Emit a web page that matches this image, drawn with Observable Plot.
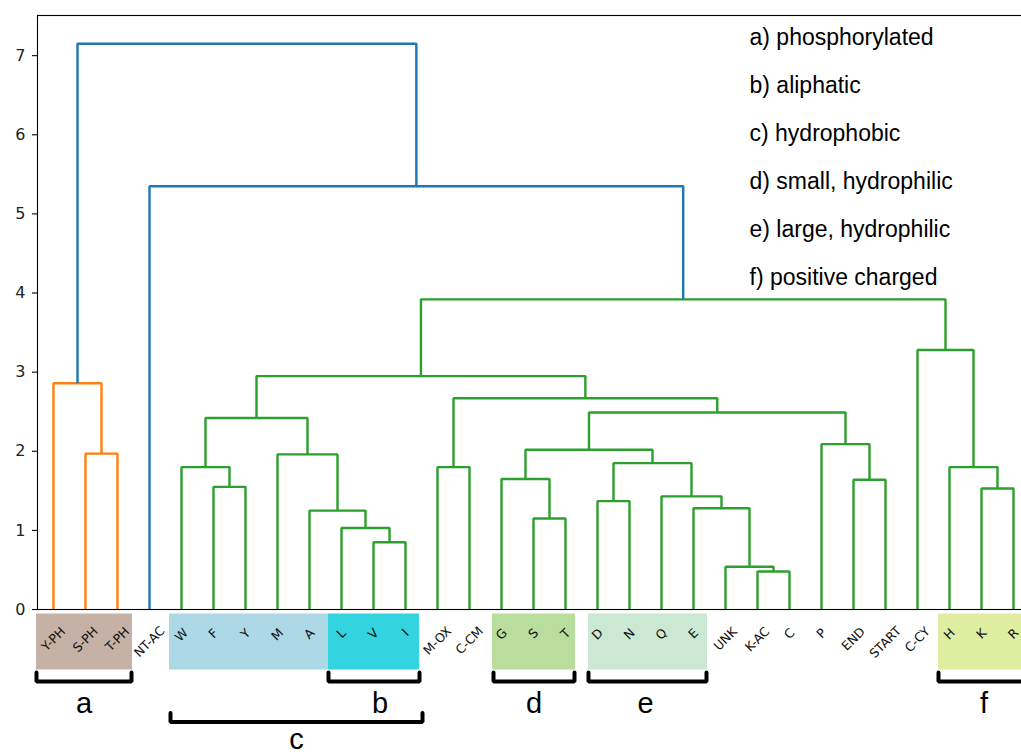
<!DOCTYPE html>
<html>
<head>
<meta charset="utf-8">
<script src="https://cdn.jsdelivr.net/npm/d3@7"></script>
<script src="https://cdn.jsdelivr.net/npm/@observablehq/plot@0.6"></script>
<style>
  html, body { margin: 0; padding: 0; background: white; overflow: hidden; }
  svg { max-width: none !important; }
</style>
</head>
<body>
<div id="chart"></div>
<script>
// ---------- data ----------
const leaves = ["Y-PH","S-PH","T-PH","NT-AC","W","F","Y","M","A","L","V","I","M-OX","C-CM",
  "G","S","T","D","N","Q","E","UNK","K-AC","C","P","END","START","C-CY","H","K","R"];

// merges: [left child, right child, height]; children are leaf names or "n<k>" (k-th merge)
const merges = [
  ["V","I",0.85],
  ["L","n0",1.03],
  ["A","n1",1.25],
  ["M","n2",1.96],
  ["F","Y",1.55],
  ["W","n4",1.80],
  ["n5","n3",2.42],
  ["K-AC","C",0.48],
  ["UNK","n7",0.54],
  ["E","n8",1.28],
  ["Q","n9",1.43],
  ["D","N",1.37],
  ["n11","n10",1.85],
  ["S","T",1.15],
  ["G","n13",1.65],
  ["n14","n12",2.02],
  ["END","START",1.64],
  ["P","n16",2.09],
  ["n15","n17",2.49],
  ["M-OX","C-CM",1.80],
  ["n19","n18",2.67],
  ["n6","n20",2.95],
  ["K","R",1.53],
  ["H","n22",1.80],
  ["C-CY","n23",3.28],
  ["n21","n24",3.92],
  ["NT-AC","n25",5.35],
  ["S-PH","T-PH",1.97],
  ["Y-PH","n27",2.86],
  ["n28","n26",7.15]
];

const yTicks = [0,1,2,3,4,5,6,7];

// shaded leaf groups: [first leaf, last leaf]
const boxes = [["Y-PH","T-PH"],["W","A"],["L","I"],["G","T"],["D","E"],["H","R"]];
// brackets: [label, first leaf, last leaf, row]
const brackets = [["a","Y-PH","T-PH",1],["b","L","I",1],["c","W","I",2],["d","G","T",1],["e","D","E",1],["f","H","R",1]];

const legendLines = ["a) phosphorylated","b) aliphatic","c) hydrophobic","d) small, hydrophilic","e) large, hydrophilic","f) positive charged"];

// ---------- styles ----------
const boxColors = ["#c5b1a5","#add8e6","#33d4e0","#b9dd9d","#cbe8d3","#dfeea0"];
const boxPad = [[17,15],[12,19],[13,14],[9,10],[9,14],[11,16]];
const bracketPad = [[17,14],[13,14],[11,17],[8,9],[9,13],[11,16]];
const letterDx = [0,6,0,0,-2,0];
const aboveColor = "#1f77b4";
const palette = ["#ff7f0e","#2ca02c","#d62728","#9467bd"];

// ---------- layout ----------
const W = 1040, H = 756, mL = 37, mR = 11, mT = 15, mB = 147;
const nLeaves = leaves.length;
const xMax = 10 * nLeaves;
const maxH = d3.max(merges, d => d[2]);
const yMax = maxH * 1.05;
const plotH = H - mT - mB;
const unit = plotH / yMax;        // px per y unit
const ppu = (W - mL - mR) / xMax; // px per x unit
const py = px => -px / unit;      // px below axis -> y value

// ---------- dendrogram geometry ----------
const pos = {}, hgt = {};
leaves.forEach((l, i) => { pos[l] = 10 * i + 5; hgt[l] = 0; });
merges.forEach((m, k) => {
  const id = "n" + k;
  pos[id] = (pos[m[0]] + pos[m[1]]) / 2;
  hgt[id] = m[2];
});
// colours like scipy: above threshold -> blue, below -> a new palette colour per cluster
const thr = 0.7 * maxH;
const col = {};
let nextC = 0;
function paint(id, c) {
  if (!id.startsWith("n") || leaves.includes(id)) return;
  const k = +id.slice(1);
  const m = merges[k];
  let cc = c;
  if (m[2] >= thr) cc = null;
  else if (cc == null) cc = palette[nextC++];
  col[id] = cc == null ? aboveColor : cc;
  paint(m[0], cc); paint(m[1], cc);
}
paint("n" + (merges.length - 1), null);

const linkPts = [];
merges.forEach((m, k) => {
  const id = "n" + k, c = col[id];
  const [a, b, h] = m;
  [[pos[a], hgt[a]], [pos[a], h], [pos[b], h], [pos[b], hgt[b]]].forEach(([x, y]) =>
    linkPts.push({id, x, y, c}));
});

// measure leaf label widths
const LF = 12.5;
const ctx = document.createElement("canvas").getContext("2d");
ctx.font = LF + "px 'DejaVu Sans'";
const lw = s => ctx.measureText(s).width;

const leafX = n => pos[n];

const bracketPts = [];
brackets.forEach(([lab, f, l, row], i) => {
  const x1 = leafX(f) - bracketPad[i][0] / ppu, x2 = leafX(l) + bracketPad[i][1] / ppu;
  const bar = row === 1 ? 72 : 112.5;
  const top = bar - 9;
  [[x1, top], [x1, bar], [x2, bar], [x2, top]].forEach(([x, p]) =>
    bracketPts.push({lab, x, y: py(p)}));
});

const chart = Plot.plot({
  width: W, height: H,
  marginLeft: mL, marginRight: mR, marginTop: mT, marginBottom: mB,
  style: {background: "white", fontFamily: "DejaVu Sans", fontSize: "14px", color: "black", overflow: "visible", maxWidth: "none"},
  x: {domain: [0, xMax], axis: null},
  y: {domain: [0, yMax], axis: null},
  color: {type: "identity"},
  marks: [
    // y axis ticks and labels
    Plot.ruleY(yTicks, {y: d => d, x1: -5 / ppu, x2: 0, stroke: "black", strokeWidth: 1.1}),
    Plot.text(yTicks, {x: 0, y: d => d, text: d => String(d), dx: -12, textAnchor: "end", lineAnchor: "middle",
      fontSize: 16, fontFamily: "DejaVu Sans", fill: "#222"}),
    Plot.line(linkPts, {x: "x", y: "y", z: "id", stroke: "c", strokeWidth: 2.4, strokeLinejoin: "miter", strokeLinecap: "butt"}),
    Plot.frame({stroke: "black", strokeWidth: 1.1}),
    Plot.ruleY(boxes, {y: 0, x1: (d, i) => leafX(d[0]) - boxPad[i][0] / ppu, x2: (d, i) => leafX(d[1]) + boxPad[i][1] / ppu,
      stroke: (d, i) => boxColors[i], strokeWidth: 56, dy: 32}),
    Plot.text(leaves, {x: leafX, y: d => py(22 + 0.28 * lw(d)), text: d => d, rotate: -45,
      fontSize: LF, fontFamily: "DejaVu Sans", textAnchor: "middle", lineAnchor: "middle", fill: "#111"}),
    Plot.line(bracketPts, {x: "x", y: "y", z: "lab", stroke: "black", strokeWidth: 4, strokeLinejoin: "miter"}),
    Plot.text(brackets, {x: (d, i) => (leafX(d[1]) - bracketPad[i][0] / ppu + leafX(d[2]) + bracketPad[i][1] / ppu) / 2 + letterDx[i] / ppu,
      y: d => py(d[3] === 1 ? 103 : 139), text: d => d[0], fontSize: 29, fontFamily: "Liberation Sans", lineAnchor: "bottom", fill: "black"}),
    Plot.text([legendLines.join("\n")], {frameAnchor: "top-left", dx: 712, dy: -5, text: d => d, lineAnchor: "top",
      lineHeight: 48 / 23, fontSize: 23, fontFamily: "Liberation Sans", textAnchor: "start", fill: "black"})
  ]
});
document.getElementById("chart").appendChild(chart);
</script>
</body>
</html>
